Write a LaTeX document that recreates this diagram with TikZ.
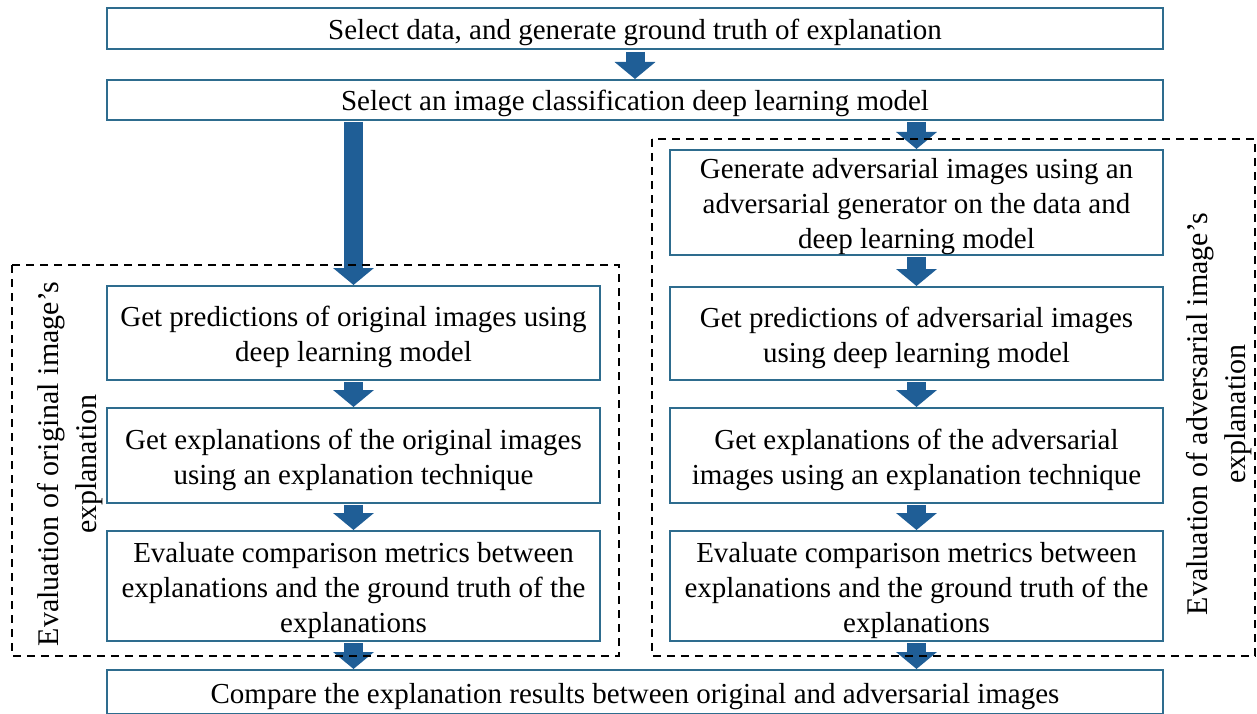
\documentclass[tikz,border=0pt]{standalone}
\usepackage{fontspec}
\setmainfont{Liberation Serif}
\usetikzlibrary{arrows.meta,calc}
\definecolor{boxline}{RGB}{46,108,142}
\definecolor{flow}{RGB}{31,94,150}
% centred lines, set a little below the optical centre of the box
\newcommand\steptext[1]{\raisebox{-4pt}[\height][\depth]{\begin{tabular}{@{}c@{}}#1\end{tabular}}}
\tikzset{
  stepbox/.style={draw=boxline, line width=2pt, fill=white,
    inner sep=0pt, font=\fontsize{29}{35}\selectfont},
  flowarrow/.style={draw=flow, line width=19pt,
    -{Triangle[width=40pt,length=17pt]}},
  group/.style={draw=black, line width=2pt, dash pattern=on 8pt off 6pt},
  grouplabel/.style={rotate=90, align=center, font=\fontsize{30}{38}\selectfont},
}
\begin{document}
\begin{tikzpicture}[x=1pt, y=-1pt]
\useasboundingbox (0,0) rectangle (1257,714);

% full-width steps
\node[stepbox, minimum width=1056pt, minimum height=41pt] (top) at (635,28.5)
  {\steptext{Select data, and generate ground truth of explanation}};
\node[stepbox, minimum width=1056pt, minimum height=40pt] (sel) at (635,100)
  {\steptext{Select an image classification deep learning model}};
\node[stepbox, minimum width=1056pt, minimum height=44pt] (cmp) at (635,692)
  {\steptext{Compare the explanation results between original and adversarial images}};

% original images column
\node[stepbox, minimum width=493pt, minimum height=94pt] (l1) at (353.5,333)
  {\steptext{Get predictions of original images using\\deep learning model}};
\node[stepbox, minimum width=493pt, minimum height=95pt] (l2) at (353.5,455.5)
  {\steptext{Get explanations of the original images\\using an explanation technique}};
\node[stepbox, minimum width=493pt, minimum height=110pt] (l3) at (353.5,586)
  {\steptext{Evaluate comparison metrics between\\explanations and the ground truth of the\\explanations}};

% adversarial images column
\node[stepbox, minimum width=493pt, minimum height=105pt] (r1) at (916.5,202.5)
  {\steptext{Generate adversarial images using an\\adversarial generator on the data and\\deep learning model}};
\node[stepbox, minimum width=493pt, minimum height=93pt] (r2) at (916.5,333.5)
  {\steptext{Get predictions of adversarial images\\using deep learning model}};
\node[stepbox, minimum width=493pt, minimum height=95pt] (r3) at (916.5,455.5)
  {\steptext{Get explanations of the adversarial\\images using an explanation technique}};
\node[stepbox, minimum width=493pt, minimum height=110pt] (r4) at (916.5,586)
  {\steptext{Evaluate comparison metrics between\\explanations and the ground truth of the\\explanations}};

% flow arrows
\draw[flowarrow] ($(top.south)+(0,2)$) -- (sel.north);
\draw[flowarrow] ($(sel.south -| l1.north)+(0,1)$) -- (l1.north);
\draw[flowarrow] ($(sel.south -| r1.north)+(0,1)$) -- (r1.north);
\draw[flowarrow] ($(l1.south)+(0,1)$) -- (l2.north);
\draw[flowarrow] ($(l2.south)+(0,1)$) -- (l3.north);
\draw[flowarrow] ($(r1.south)+(0,1)$) -- (r2.north);
\draw[flowarrow] ($(r2.south)+(0,1)$) -- (r3.north);
\draw[flowarrow] ($(r3.south)+(0,1)$) -- (r4.north);
\draw[flowarrow] ($(l3.south)+(0,1)$) -- (l3.south |- cmp.north);
\draw[flowarrow] ($(r4.south)+(0,1)$) -- (r4.south |- cmp.north);

% evaluation groups
\coordinate (gl1) at (12,265);
\coordinate (gl2) at (619,656);
\coordinate (gr1) at (652,139);
\coordinate (gr2) at (1255,656);
\draw[group] (gl1) rectangle (gl2);
\draw[group] (gr1) rectangle (gr2);
\node[grouplabel] (lbl) at (70,464) {Evaluation of original image's\\explanation};
\node[grouplabel] (lbr) at (1219,414) {Evaluation of adversarial image's\\explanation};
\end{tikzpicture}
\end{document}
